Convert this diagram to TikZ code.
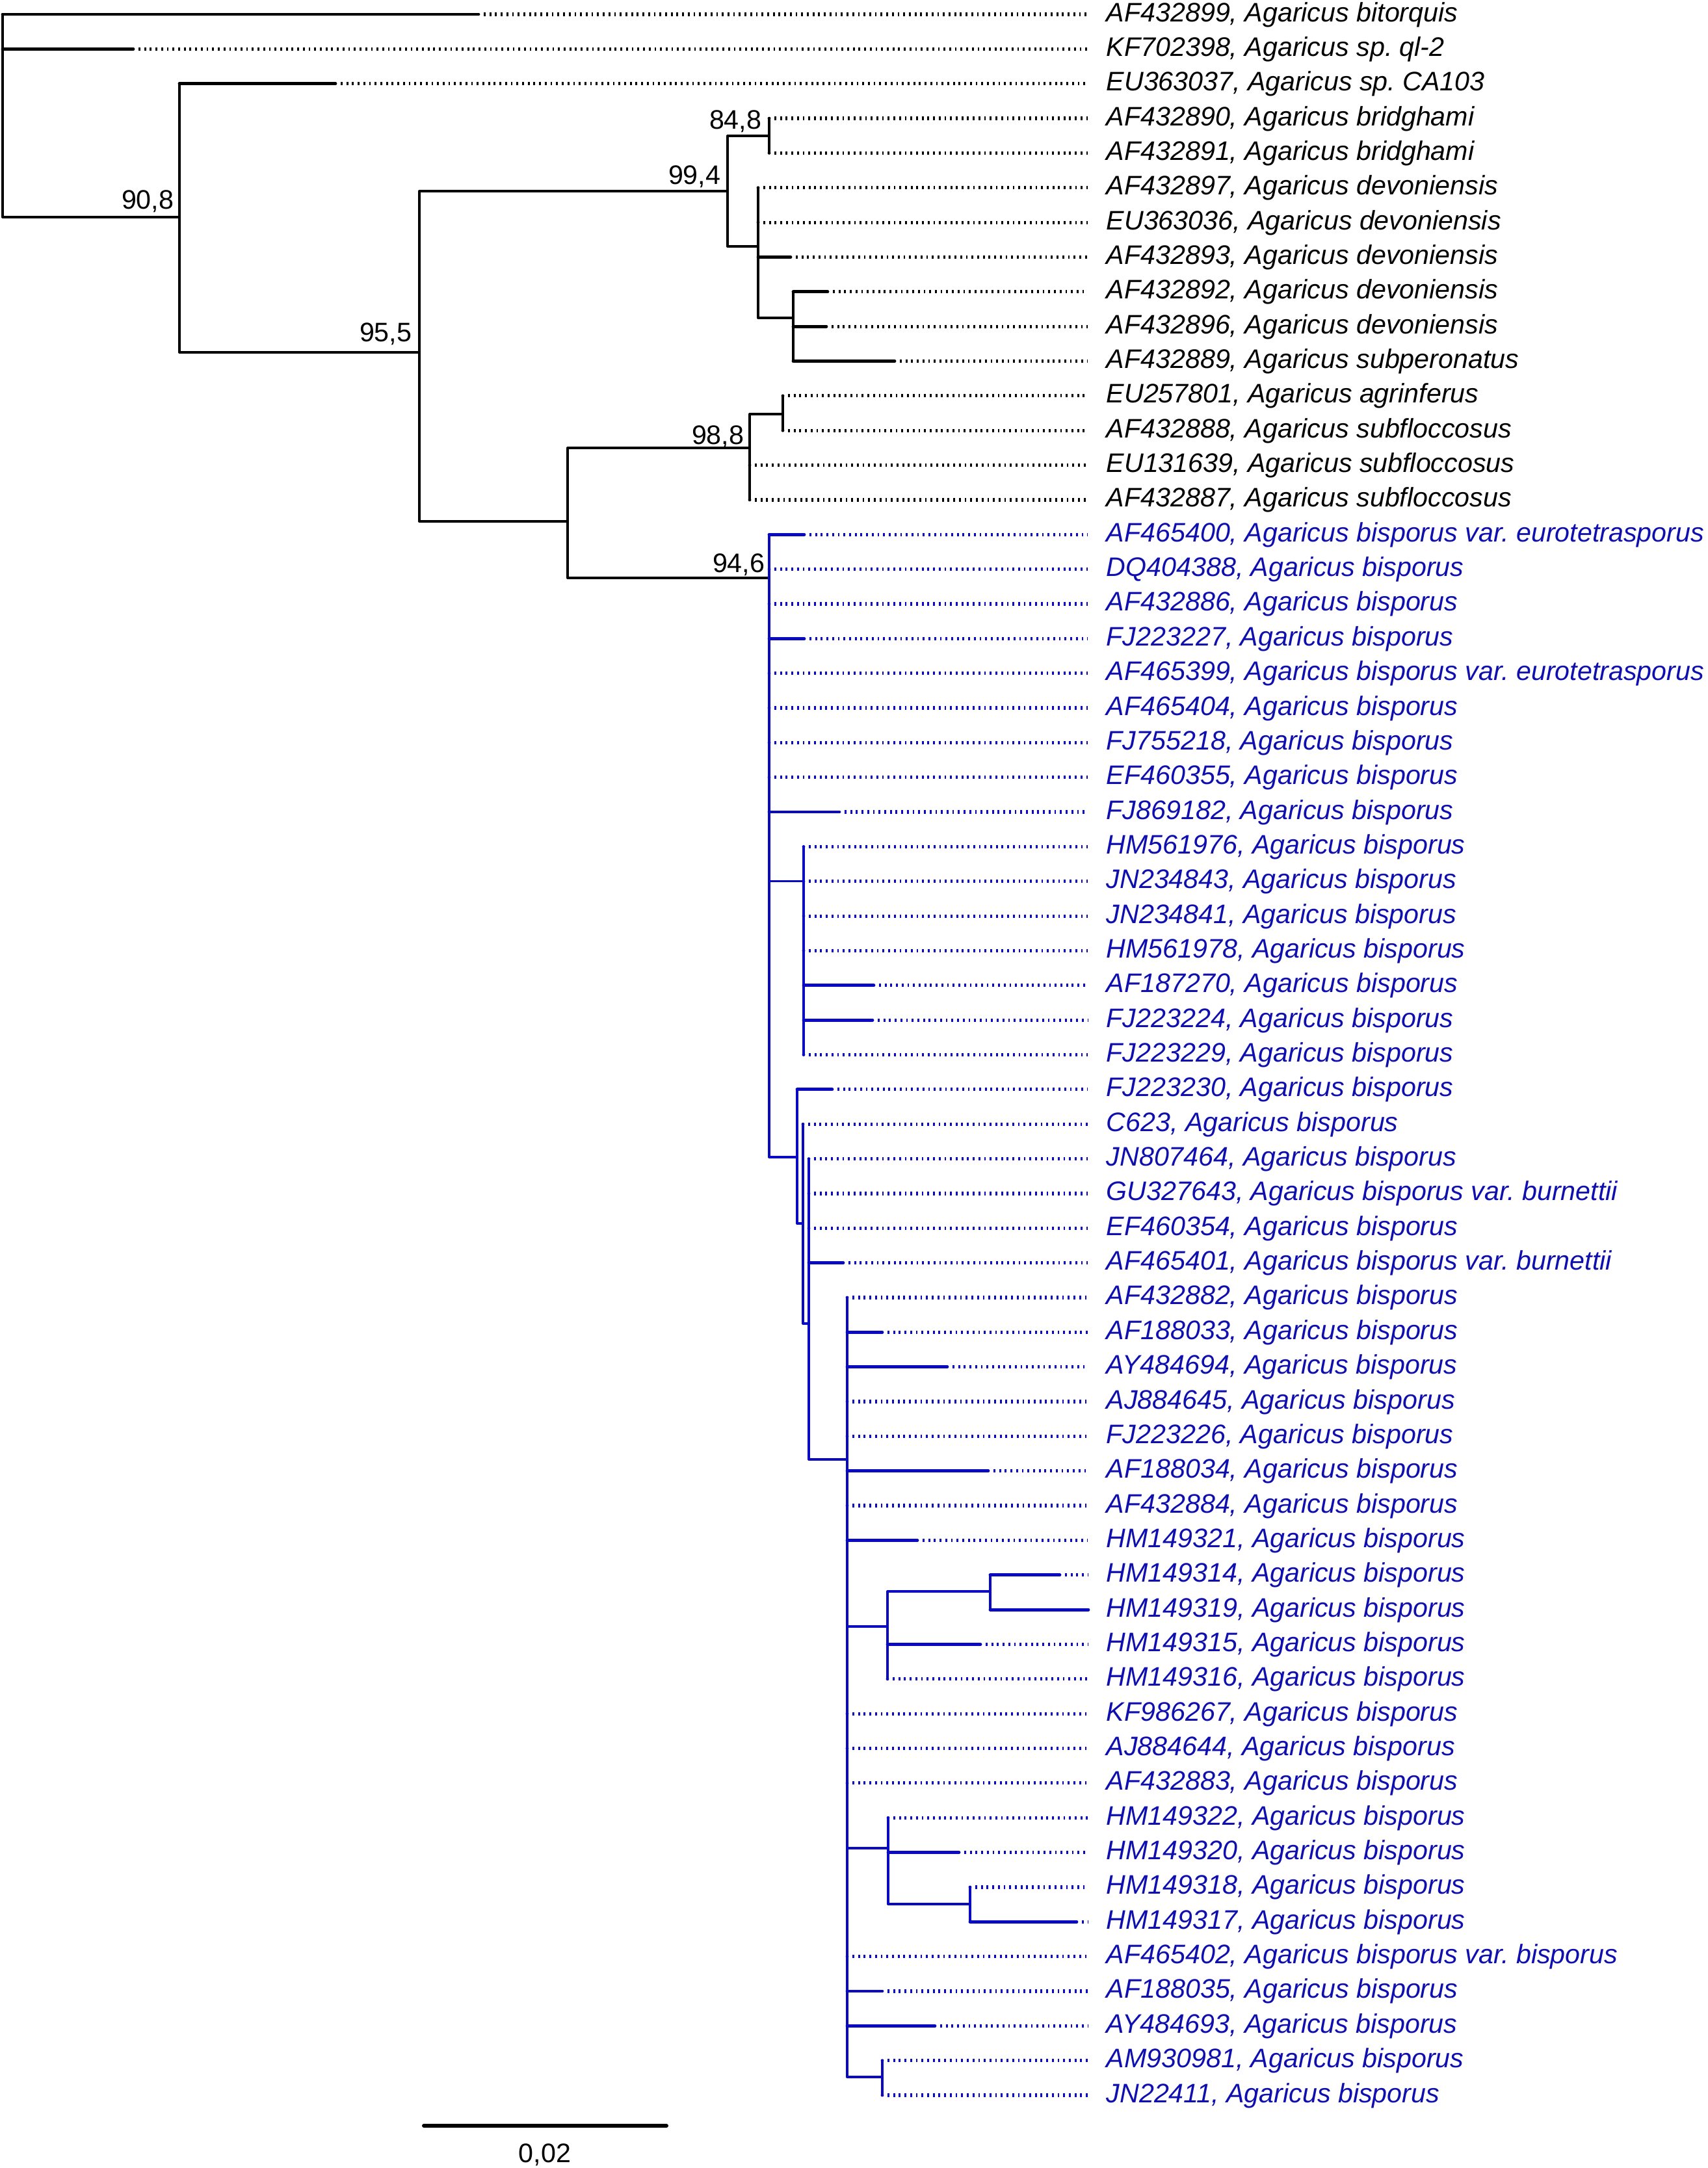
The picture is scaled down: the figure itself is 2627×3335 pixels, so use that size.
\documentclass[tikz,border=0pt]{standalone}
\usepackage{fontspec}
\setmainfont{Liberation Sans}
\frenchspacing
\definecolor{treeblue}{RGB}{10,10,195}
\definecolor{textblue}{RGB}{15,15,175}
\tikzset{
  intl/.style={line width=0.85pt, line cap=round},
  terml/.style={line width=1.2pt, line cap=round},
  dotl/.style={line width=1.3pt, dash pattern=on 0.7pt off 1.48pt},
  lab/.style={font=\fontsize{10.3}{12}\selectfont\itshape\frenchspacing, inner sep=0pt, anchor=base west},
  suppl/.style={font=\fontsize{10.3}{12}\selectfont, inner sep=0pt, anchor=base east},
}
\begin{document}
\begin{tikzpicture}[x=0.25pt,y=-0.25pt]
\useasboundingbox (0,0) rectangle (2627,3335);
% internal nodes (x of vertical, y of incoming horizontal)
\coordinate (root) at (4,22);
\coordinate (n908) at (276,334);
\coordinate (n955) at (645,542);
\coordinate (n994) at (1119,294);
\coordinate (n848) at (1183,209);
\coordinate (ndev) at (1166,379);
\coordinate (ndev2) at (1220,489);
\coordinate (nlow) at (873,802);
\coordinate (n988) at (1153,689);
\coordinate (nagr) at (1204,637);
\coordinate (nbl) at (1183,889);
\coordinate (nsub) at (1236,1355.75);
\coordinate (nA) at (1226,1780);
\coordinate (nB) at (1235,1882);
\coordinate (nC) at (1244,2036);
\coordinate (nD) at (1303,2245);
\coordinate (nE) at (1365,2502);
\coordinate (nF) at (1523,2448);
\coordinate (nG) at (1366,2843);
\coordinate (nH) at (1492,2929);
\coordinate (nI) at (1357,3195);
% black leaves
\foreach \r/\p/\ex/\t in {
  1/root/736/{AF432899, Agaricus bitorquis},
  2/root/205/{KF702398, Agaricus sp. ql-2},
  3/n908/516/{EU363037, Agaricus sp. CA103},
  4/n848/1183/{AF432890, Agaricus bridghami},
  5/n848/1183/{AF432891, Agaricus bridghami},
  6/ndev/1166/{AF432897, Agaricus devoniensis},
  7/ndev/1166/{EU363036, Agaricus devoniensis},
  8/ndev/1216/{AF432893, Agaricus devoniensis},
  9/ndev2/1273/{AF432892, Agaricus devoniensis},
  10/ndev2/1271/{AF432896, Agaricus devoniensis},
  11/ndev2/1376/{AF432889, Agaricus subperonatus},
  12/nagr/1204/{EU257801, Agaricus agrinferus},
  13/nagr/1204/{AF432888, Agaricus subfloccosus},
  14/n988/1153/{EU131639, Agaricus subfloccosus},
  15/n988/1153/{AF432887, Agaricus subfloccosus}} {
  \pgfmathsetmacro\yy{22+(\r-1)*53.35}
  \coordinate (s\r) at (\ex,\yy);
  \coordinate (e\r) at (1673,\yy);
  \draw[terml] (\p |- s\r) -- (s\r);
  \draw[dotl] ([xshift=2pt]s\r) -- (e\r);
  \node[lab] (t\r) at (1701,\yy+11) {\t};
}
% black verticals
\foreach \n/\a/\b in {root/s1/n908, n908/s3/n955, n955/n994/nlow, n994/n848/ndev,
  n848/s4/s5, ndev/s6/ndev2, ndev2/s9/s11, nlow/n988/nbl, n988/nagr/s15, nagr/s12/s13}
  \draw[intl] (\n |- \a) -- (\n |- \b);
% black internal edges
\foreach \pa/\ch in {root/n908, n908/n955, n955/n994, n955/nlow, n994/n848, n994/ndev,
  ndev/ndev2, nlow/n988, nlow/nbl, n988/nagr}
  \draw[intl] (\pa |- \ch) -- (\ch);
% blue part
\begin{scope}[color=treeblue]
\foreach \r/\p/\ex/\t in {
  16/nbl/1237/{AF465400, Agaricus bisporus var. eurotetrasporus},
  17/nbl/1183/{DQ404388, Agaricus bisporus},
  18/nbl/1183/{AF432886, Agaricus bisporus},
  19/nbl/1237/{FJ223227, Agaricus bisporus},
  20/nbl/1183/{AF465399, Agaricus bisporus var. eurotetrasporus},
  21/nbl/1183/{AF465404, Agaricus bisporus},
  22/nbl/1183/{FJ755218, Agaricus bisporus},
  23/nbl/1183/{EF460355, Agaricus bisporus},
  24/nbl/1291/{FJ869182, Agaricus bisporus},
  25/nsub/1236/{HM561976, Agaricus bisporus},
  26/nsub/1236/{JN234843, Agaricus bisporus},
  27/nsub/1236/{JN234841, Agaricus bisporus},
  28/nsub/1236/{HM561978, Agaricus bisporus},
  29/nsub/1344/{AF187270, Agaricus bisporus},
  30/nsub/1342/{FJ223224, Agaricus bisporus},
  31/nsub/1236/{FJ223229, Agaricus bisporus},
  32/nA/1280/{FJ223230, Agaricus bisporus},
  33/nB/1235/{C623, Agaricus bisporus},
  34/nC/1244/{JN807464, Agaricus bisporus},
  35/nC/1244/{GU327643, Agaricus bisporus var. burnettii},
  36/nC/1244/{EF460354, Agaricus bisporus},
  37/nC/1297/{AF465401, Agaricus bisporus var. burnettii},
  38/nD/1303/{AF432882, Agaricus bisporus},
  39/nD/1357/{AF188033, Agaricus bisporus},
  40/nD/1457/{AY484694, Agaricus bisporus},
  41/nD/1303/{AJ884645, Agaricus bisporus},
  42/nD/1303/{FJ223226, Agaricus bisporus},
  43/nD/1520/{AF188034, Agaricus bisporus},
  44/nD/1303/{AF432884, Agaricus bisporus},
  45/nD/1411/{HM149321, Agaricus bisporus},
  46/nF/1630/{HM149314, Agaricus bisporus},
  47/nF/1674/{HM149319, Agaricus bisporus},
  48/nE/1508/{HM149315, Agaricus bisporus},
  49/nE/1365/{HM149316, Agaricus bisporus},
  50/nD/1303/{KF986267, Agaricus bisporus},
  51/nD/1303/{AJ884644, Agaricus bisporus},
  52/nD/1303/{AF432883, Agaricus bisporus},
  53/nG/1366/{HM149322, Agaricus bisporus},
  54/nG/1475/{HM149320, Agaricus bisporus},
  55/nH/1492/{HM149318, Agaricus bisporus},
  56/nH/1656/{HM149317, Agaricus bisporus},
  57/nD/1303/{AF465402, Agaricus bisporus var. bisporus},
  58/nD/1357/{AF188035, Agaricus bisporus},
  59/nD/1438/{AY484693, Agaricus bisporus},
  60/nI/1357/{AM930981, Agaricus bisporus},
  61/nI/1357/{JN22411, Agaricus bisporus}} {
  \pgfmathsetmacro\yy{22+(\r-1)*53.35}
  \coordinate (s\r) at (\ex,\yy);
  \coordinate (e\r) at (1673,\yy);
  \draw[terml] (\p |- s\r) -- (s\r);
  \ifnum\ex<1670 \draw[dotl] ([xshift=2pt]s\r) -- (e\r); \fi
  \node[lab, text=textblue] (t\r) at (1701,\yy+11) {\t};
}
\foreach \n/\a/\b in {nbl/s16/nA, nsub/s25/s31, nA/s32/nB, nB/s33/nC, nC/s34/nD,
  nD/s38/nI, nE/nF/s49, nF/s46/s47, nG/s53/nH, nH/s55/s56, nI/s60/s61}
  \draw[intl] (\n |- \a) -- (\n |- \b);
\foreach \pa/\ch in {nbl/nsub, nbl/nA, nA/nB, nB/nC, nC/nD, nD/nE, nD/nG, nD/nI,
  nE/nF, nG/nH}
  \draw[intl] (\pa |- \ch) -- (\ch);
\end{scope}
% support values
\node[suppl] (b908) at (268,321) {90,8};
\node[suppl] (b955) at (634,525) {95,5};
\node[suppl] (b994) at (1109,283) {99,4};
\node[suppl] (b848) at (1172,198) {84,8};
\node[suppl] (b988) at (1145,683) {98,8};
\node[suppl] (b946) at (1177,880) {94,6};
% scale bar
\coordinate (sbl) at (652,3270);
\coordinate (sbr) at (1025,3270);
\draw[line width=1.5pt, line cap=round] (sbl) -- (sbr);
\node[font=\fontsize{10.3}{12}\selectfont, inner sep=0pt, anchor=base] (sbt) at (838,3326) {0,02};
\end{tikzpicture}
\end{document}
